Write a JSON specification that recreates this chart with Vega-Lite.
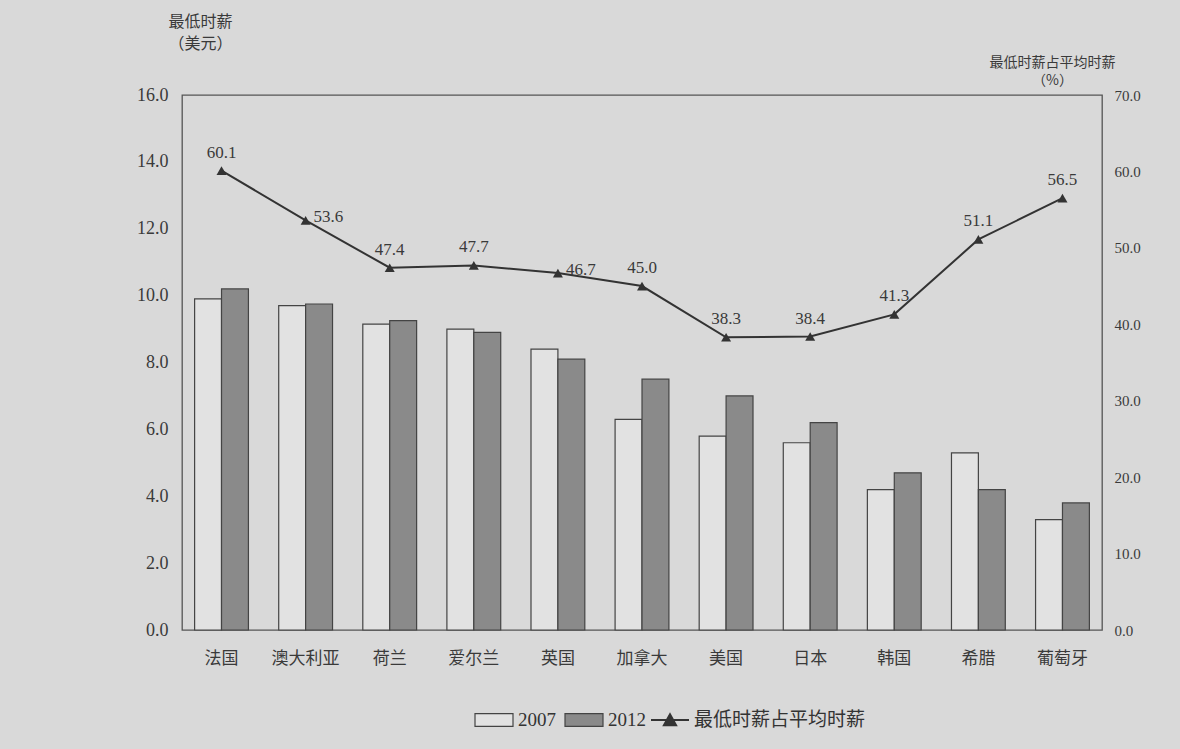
{
  "$schema": "https://vega.github.io/schema/vega-lite/v6.json",
  "width": 920,
  "height": 535,
  "autosize": {"type": "none"},
  "padding": {"left": 182, "top": 95, "right": 78, "bottom": 119},
  "background": "#d9d9d9",
  "config": {
    "view": {"stroke": "#555555", "strokeWidth": 1.3},
    "font": "Noto Sans CJK SC",
    "axis": {"domain": false, "grid": false, "ticks": false, "labelColor": "#3a3a3a", "titleColor": "#3a3a3a"}
  },
  "datasets": {
    "bars": [
      {"country": "法国", "year": "2007", "wage": 9.9},
      {"country": "法国", "year": "2012", "wage": 10.2},
      {"country": "澳大利亚", "year": "2007", "wage": 9.7},
      {"country": "澳大利亚", "year": "2012", "wage": 9.75},
      {"country": "荷兰", "year": "2007", "wage": 9.15},
      {"country": "荷兰", "year": "2012", "wage": 9.25},
      {"country": "爱尔兰", "year": "2007", "wage": 9.0},
      {"country": "爱尔兰", "year": "2012", "wage": 8.9},
      {"country": "英国", "year": "2007", "wage": 8.4},
      {"country": "英国", "year": "2012", "wage": 8.1},
      {"country": "加拿大", "year": "2007", "wage": 6.3},
      {"country": "加拿大", "year": "2012", "wage": 7.5},
      {"country": "美国", "year": "2007", "wage": 5.8},
      {"country": "美国", "year": "2012", "wage": 7.0},
      {"country": "日本", "year": "2007", "wage": 5.6},
      {"country": "日本", "year": "2012", "wage": 6.2},
      {"country": "韩国", "year": "2007", "wage": 4.2},
      {"country": "韩国", "year": "2012", "wage": 4.7},
      {"country": "希腊", "year": "2007", "wage": 5.3},
      {"country": "希腊", "year": "2012", "wage": 4.2},
      {"country": "葡萄牙", "year": "2007", "wage": 3.3},
      {"country": "葡萄牙", "year": "2012", "wage": 3.8}
    ],
    "ratio": [
      {"country": "法国", "ratio": 60.1},
      {"country": "澳大利亚", "ratio": 53.6},
      {"country": "荷兰", "ratio": 47.4},
      {"country": "爱尔兰", "ratio": 47.7},
      {"country": "英国", "ratio": 46.7},
      {"country": "加拿大", "ratio": 45.0},
      {"country": "美国", "ratio": 38.3},
      {"country": "日本", "ratio": 38.4},
      {"country": "韩国", "ratio": 41.3},
      {"country": "希腊", "ratio": 51.1},
      {"country": "葡萄牙", "ratio": 56.5}
    ]
  },
  "layer": [
    {
      "data": {"name": "bars"},
      "mark": {"type": "bar", "stroke": "#444444", "strokeWidth": 1.2},
      "encoding": {
        "x": {
          "field": "country", "type": "nominal",
          "sort": ["法国", "澳大利亚", "荷兰", "爱尔兰", "英国", "加拿大", "美国", "日本", "韩国", "希腊", "葡萄牙"],
          "scale": {"paddingInner": 0.36, "paddingOuter": 0.15},
          "axis": {"title": null, "labelAngle": 0, "labelPadding": 20, "labelFontSize": 17, "labelFont": "Noto Sans CJK SC"}
        },
        "xOffset": {"field": "year", "type": "nominal", "sort": ["2007", "2012"]},
        "y": {
          "field": "wage", "type": "quantitative",
          "scale": {"domain": [0, 16]},
          "axis": {
            "orient": "left", "values": [0, 2, 4, 6, 8, 10, 12, 14, 16], "format": ".1f",
            "labelFont": "Liberation Serif", "labelFontSize": 18, "labelPadding": 14,
            "title": ["最低时薪", "（美元）"], "titleAngle": 0, "titleAlign": "center", "titleBaseline": "top",
            "titleX": 18, "titleY": -82, "titleFontSize": 16, "titleFontWeight": "normal", "titleLineHeight": 22
          }
        },
        "fill": {
          "field": "year", "type": "nominal",
          "scale": {"domain": ["2007", "2012"], "range": ["#e2e2e2", "#8a8a8a"]},
          "legend": {
            "orient": "none", "legendX": 292, "legendY": 605, "direction": "horizontal", "title": null,
            "symbolType": "M-1,-0.34H1V0.34H-1Z", "symbolSize": 1444,
            "symbolStrokeColor": "#444444", "symbolStrokeWidth": 1.2,
            "labelFont": "Liberation Serif", "labelFontSize": 19, "labelColor": "#333333",
            "labelOffset": 4, "columnPadding": 6
          }
        }
      }
    },
    {
      "data": {"name": "ratio"},
      "encoding": {
        "x": {"field": "country", "type": "nominal", "sort": ["法国", "澳大利亚", "荷兰", "爱尔兰", "英国", "加拿大", "美国", "日本", "韩国", "希腊", "葡萄牙"]},
        "y": {
          "field": "ratio", "type": "quantitative",
          "scale": {"domain": [0, 70]},
          "axis": {
            "orient": "right", "values": [0, 10, 20, 30, 40, 50, 60, 70], "format": ".1f",
            "labelFont": "Liberation Serif", "labelFontSize": 15, "labelPadding": 12,
            "title": ["最低时薪占平均时薪", "（%）"], "titleAngle": 0, "titleAlign": "center", "titleBaseline": "top",
            "titleX": -50, "titleY": -40, "titleFontSize": 14, "titleFontWeight": "normal", "titleLineHeight": 18
          }
        }
      },
      "layer": [
        {
          "mark": {"type": "line", "strokeWidth": 2},
          "encoding": {
            "stroke": {
              "datum": "最低时薪占平均时薪",
              "scale": {"range": ["#333333"]},
              "legend": {
                "orient": "none", "legendX": 468, "legendY": 605, "title": null,
                "symbolType": "M-1,0H1M-0.32,0.28L0,-0.3L0.32,0.28Z", "symbolSize": 1444, "symbolStrokeWidth": 2,
                "labelFont": "Noto Sans CJK SC", "labelFontSize": 19, "labelColor": "#333333", "labelOffset": 4, "labelLimit": 0,
                "encode": {"symbols": {"update": {"fill": {"value": "#333333"}}}}
              }
            }
          }
        },
        {
          "mark": {"type": "point", "shape": "triangle-up", "filled": true, "color": "#333333", "size": 100, "opacity": 1}
        },
        {
          "transform": [{"filter": "datum.country !== '澳大利亚' && datum.country !== '英国'"}],
          "mark": {"type": "text", "font": "Liberation Serif", "fontSize": 17, "color": "#3a3a3a", "baseline": "bottom", "dy": -9},
          "encoding": {"text": {"field": "ratio", "type": "quantitative", "format": ".1f"}}
        },
        {
          "transform": [{"filter": "datum.country === '澳大利亚' || datum.country === '英国'"}],
          "mark": {"type": "text", "font": "Liberation Serif", "fontSize": 17, "color": "#3a3a3a", "align": "left", "baseline": "middle", "dx": 8, "dy": -3},
          "encoding": {"text": {"field": "ratio", "type": "quantitative", "format": ".1f"}}
        }
      ]
    }
  ],
  "resolve": {"scale": {"y": "independent"}}
}
